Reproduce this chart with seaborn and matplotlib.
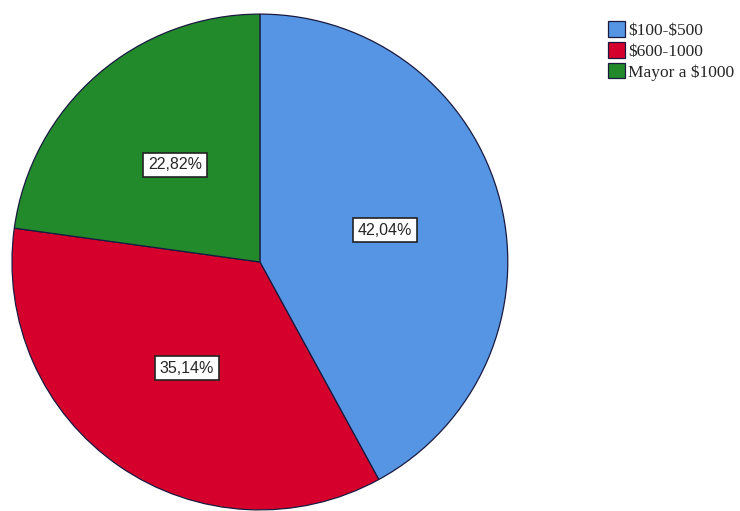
import matplotlib
matplotlib.use("Agg")
import matplotlib.pyplot as plt
import seaborn as sns

# Datos
categorias = ["\\$100-\\$500", "\\$600-1000", "Mayor a \\$1000"]
porcentajes = [42.04, 35.14, 22.82]
colores = ["#5595E3", "#D6002C", "#238A2C"]

sns.set_style("white")
plt.rcParams["font.family"] = ["Liberation Serif", "DejaVu Serif"]

fig = plt.figure(figsize=(7.4, 5.11), dpi=100)
ax = fig.add_axes([0.0162, 0.002, 0.670, 0.9706])

wedges, _, autotexts = ax.pie(
    porcentajes, colors=colores, startangle=90, counterclock=False, radius=1,
    autopct=lambda p: f"{p:.2f}%".replace(".", ","), pctdistance=0.52,
    wedgeprops=dict(edgecolor="#1a1a40", linewidth=0.9))

# Etiquetas de porcentaje en cajas blancas
for t in autotexts:
    t.set_family(["Liberation Sans", "DejaVu Sans"])
    t.set_fontsize(11.5)
    t.set_bbox(dict(boxstyle="square,pad=0.3", facecolor="white",
                    edgecolor="#222222", linewidth=1.2))

ax.set_xlim(-1, 1)
ax.set_ylim(-1, 1)
ax.set_aspect("equal")
ax.axis("off")

fig.legend(wedges, categorias, loc="upper left", bbox_to_anchor=(0.8216, 0.958),
           frameon=False, fontsize=12.5, handlelength=1.0, handleheight=1.0,
           handletextpad=0.15, labelspacing=0.17, borderaxespad=0, borderpad=0)

fig.savefig("out.png", dpi=100, facecolor="white")
